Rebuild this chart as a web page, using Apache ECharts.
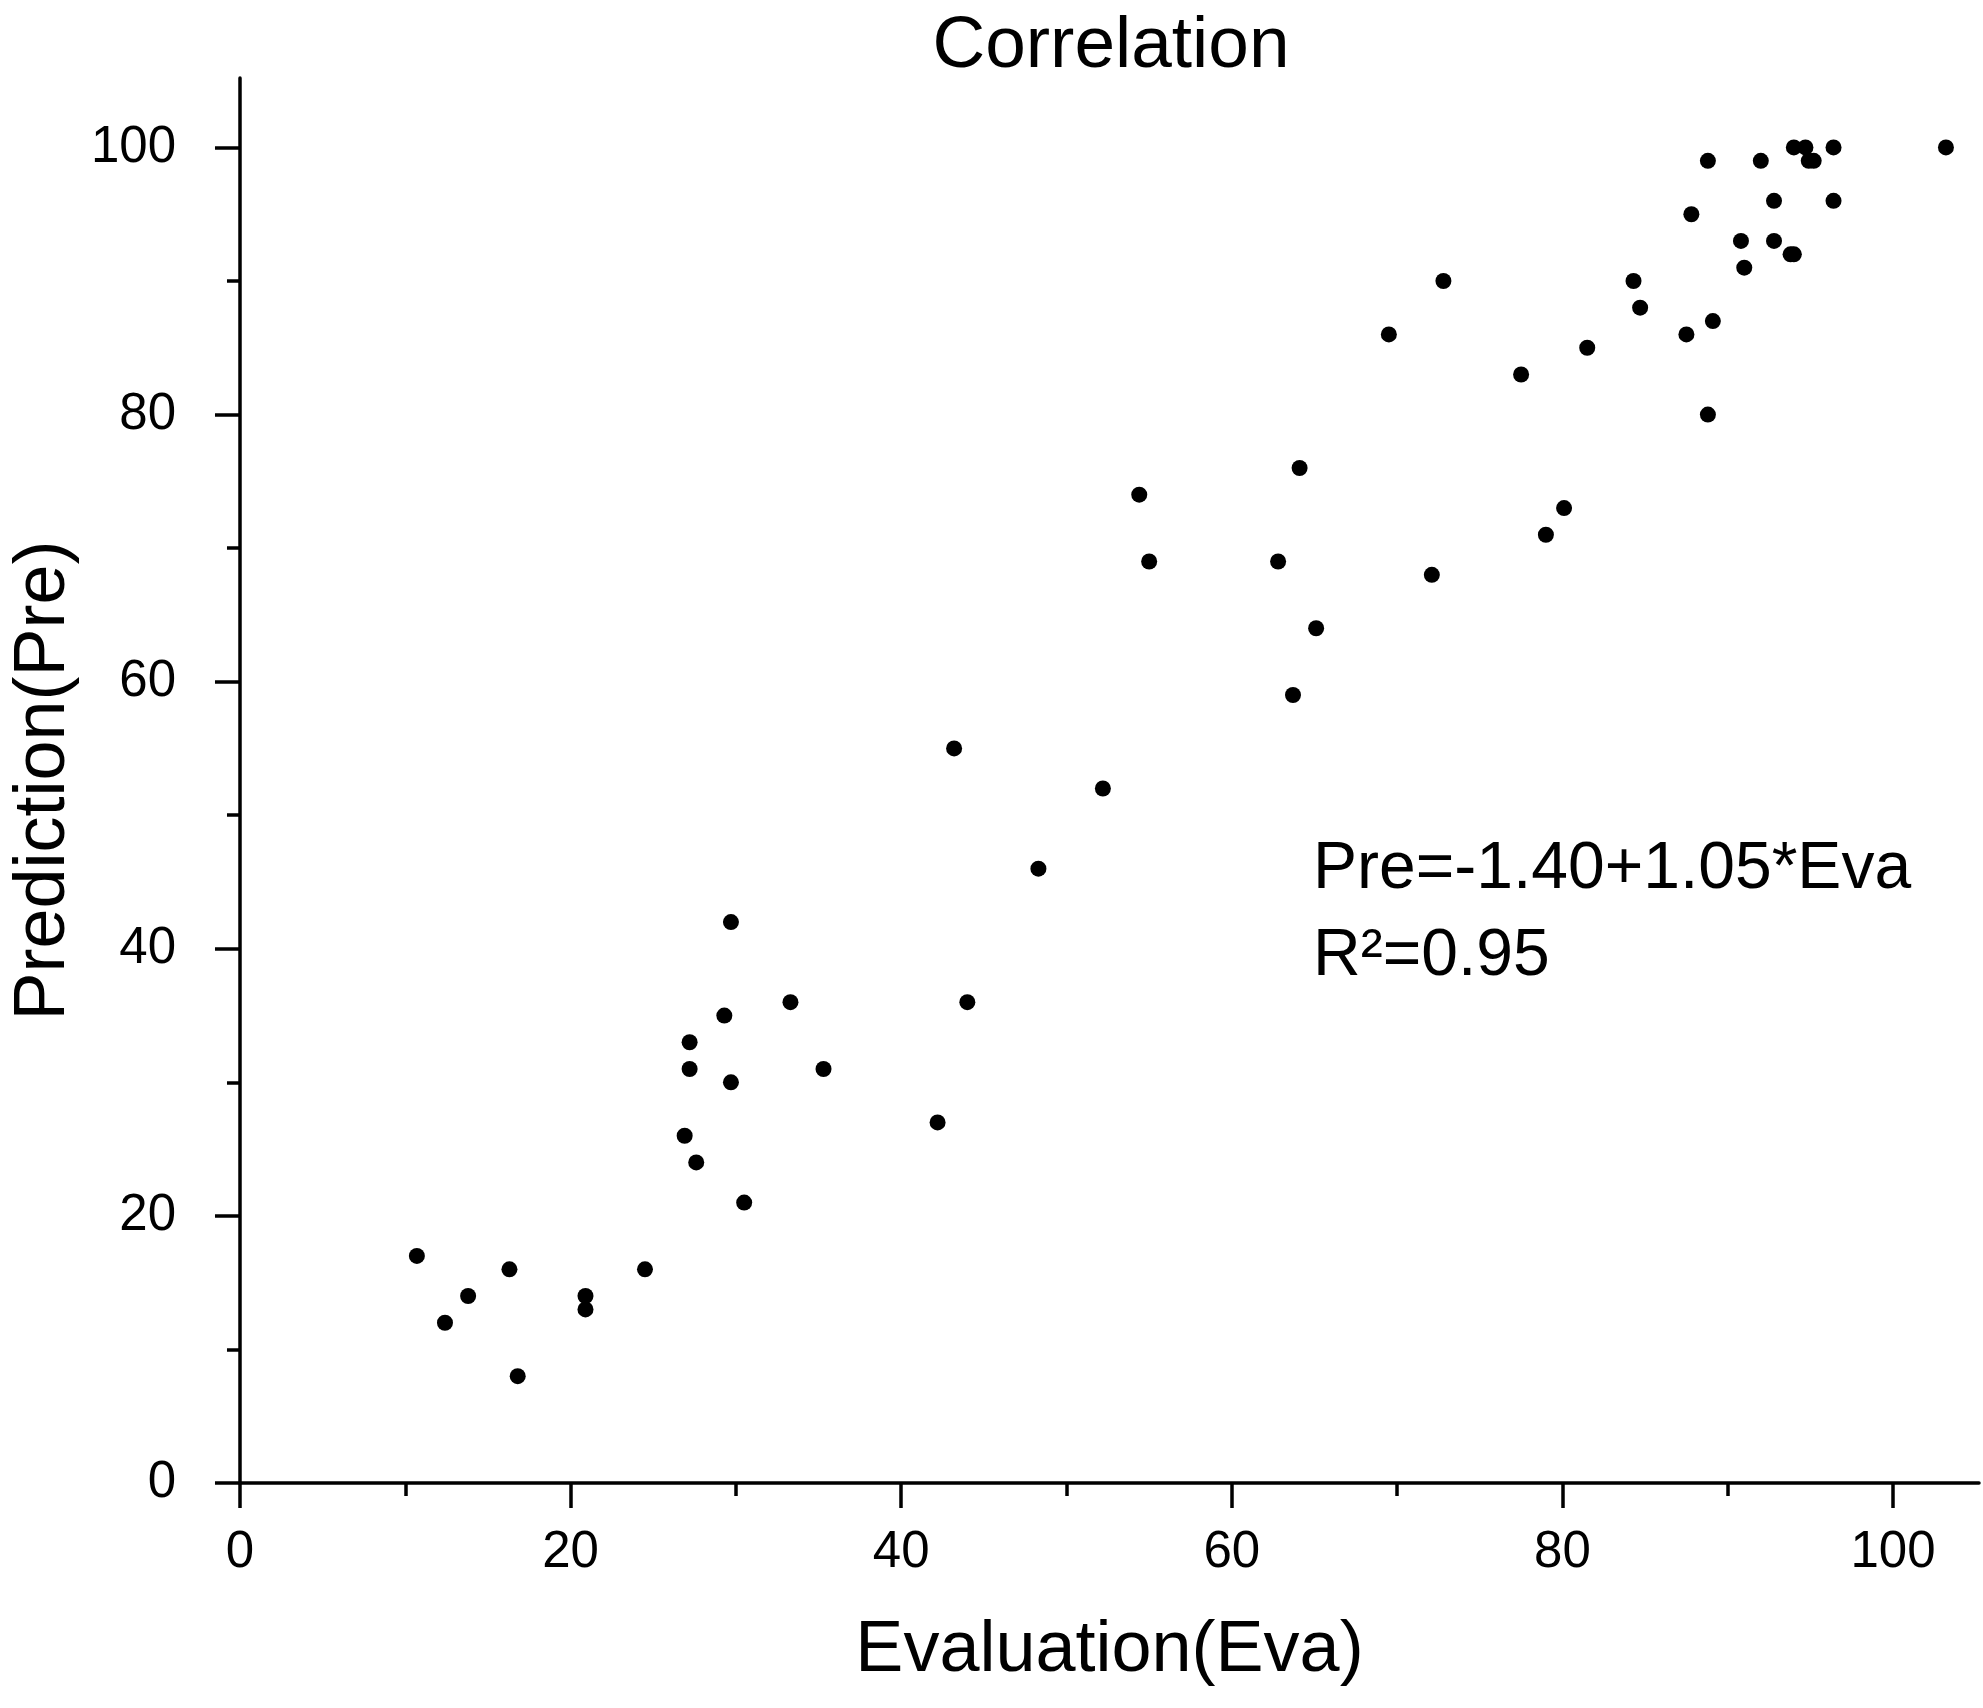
<!DOCTYPE html>
<html>
<head>
<meta charset="utf-8">
<title>Correlation</title>
<script src="https://cdn.jsdelivr.net/npm/echarts@6/dist/echarts.min.js"></script>
<style>
  html, body { margin: 0; padding: 0; background: #fff; }
  #chart { width: 1983px; height: 1708px; }
</style>
</head>
<body>
<div id="chart"></div>
<script>
// 数据：横轴 Evaluation(Eva)，纵轴 Prediction(Pre)
var evaValues = [10.7, 12.4, 13.8, 16.3, 16.8, 20.9, 20.9, 24.5, 26.9, 27.2,
  27.2, 27.6, 29.3, 29.7, 29.7, 30.5, 33.3, 35.3, 42.2, 43.2,
  44.0, 48.3, 52.2, 54.4, 55.0, 62.8, 63.7, 64.1, 65.1, 69.5,
  72.1, 72.8, 77.5, 79.0, 80.1, 81.5, 84.3, 84.7, 87.5, 87.8,
  88.8, 88.8, 89.1, 90.8, 91.0, 92.0, 92.8, 92.8, 93.8, 94.0,
  94.0, 94.7, 94.9, 95.2, 96.4, 96.4, 103.2];
var preValues = [17, 12, 14, 16, 8, 14, 13, 16, 26, 33,
  31, 24, 35, 42, 30, 21, 36, 31, 27, 55,
  36, 46, 52, 74, 69, 69, 59, 76, 64, 86,
  68, 90, 83, 71, 73, 85, 90, 88, 86, 95,
  99, 80, 87, 93, 91, 99, 96, 93, 92, 92,
  100, 100, 99, 99, 100, 96, 100];

// 刻度
var majorTicks = [0, 20, 40, 60, 80, 100];
var minorTicks = [10, 30, 50, 70, 90];

var axisMax = 105.2;
var font = 'Liberation Sans, Arial, sans-serif';

var points = [];
for (var i = 0; i < evaValues.length; i++) {
  points.push([evaValues[i], preValues[i]]);
}

var myChart = echarts.init(document.getElementById('chart'));

// 主轴：轴线 + 主刻度 + 标签
function mainAxis(name, isX) {
  return {
    type: 'value',
    min: 0,
    max: axisMax,
    position: isX ? 'bottom' : 'left',
    name: name,
    nameLocation: 'middle',
    nameGap: isX ? 132 : 157,
    nameTextStyle: { color: '#000', fontSize: 72, fontFamily: font },
    axisLine: { show: true, onZero: false, lineStyle: { color: '#000', width: 3.5 } },
    axisTick: { show: true, customValues: majorTicks, length: 25, lineStyle: { color: '#000', width: 3.5 } },
    axisLabel: {
      customValues: majorTicks,
      margin: isX ? 44 : 64,
      color: '#000',
      fontSize: 51,
      fontFamily: font
    },
    splitLine: { show: false }
  };
}

// 次刻度：只画短刻度线
function minorAxis(isX) {
  return {
    type: 'value',
    min: 0,
    max: axisMax,
    position: isX ? 'bottom' : 'left',
    axisLine: { show: false, onZero: false },
    axisTick: { show: true, customValues: minorTicks, length: 13, lineStyle: { color: '#000', width: 3.5 } },
    axisLabel: { show: false },
    splitLine: { show: false }
  };
}

var option = {
  backgroundColor: '#fff',
  animation: false,
  title: {
    text: 'Correlation',
    left: 1106,
    textAlign: 'center',
    top: 5,
    textStyle: { color: '#000', fontSize: 73, fontWeight: 'normal', fontFamily: font }
  },
  grid: {
    left: 237,
    right: 4,
    top: 78,
    bottom: 225
  },
  xAxis: [mainAxis('Evaluation(Eva)', true), minorAxis(true)],
  yAxis: [mainAxis('Prediction(Pre)', false), minorAxis(false)],
  graphic: [{
    type: 'text',
    left: 1313,
    top: 826,
    style: {
      text: 'Pre=-1.40+1.05*Eva\nR²=0.95',
      font: '66px ' + font,
      lineHeight: 87,
      fill: '#000'
    }
  }],
  series: [{
    type: 'scatter',
    xAxisIndex: 0,
    yAxisIndex: 0,
    symbol: 'circle',
    symbolSize: 16,
    itemStyle: { color: '#000', opacity: 1 },
    data: points
  }]
};

myChart.setOption(option);
</script>
</body>
</html>
